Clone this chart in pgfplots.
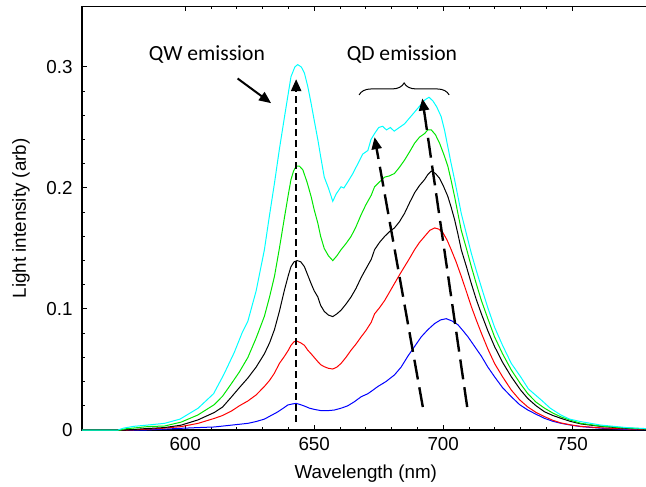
\documentclass[border=0pt]{standalone}
\usepackage{pgfplots}
\pgfplotsset{compat=1.18}
\usepackage{fontspec}
\setmainfont{Liberation Sans}
\newfontfamily\calibri{Carlito}
\usetikzlibrary{arrows.meta,decorations.pathreplacing}
\definecolor{cCyan}{RGB}{0,255,255}
\definecolor{cGreen}{RGB}{0,230,0}
\definecolor{cRed}{RGB}{255,0,0}
\definecolor{cBlue}{RGB}{0,0,255}
\begin{document}
\begin{tikzpicture}
\begin{axis}[
  scale only axis, width=283.8pt, height=211.75pt,
  xmin=560, xmax=780, ymin=0, ymax=0.35,
  xtick={600,650,700,750}, ytick={0,0.1,0.2,0.3},
  minor x tick num=4, minor y tick num=4,
  tick align=inside, ytick pos=left,
  major tick length=2.5pt, minor tick length=1.5pt,
  tick style={black, line width=0.5pt},
  axis line style={line width=0.6pt},
  font=\fontsize{9.4}{11}\selectfont,
  /pgf/number format/assume math mode=true,
  yticklabel style={/pgf/number format/fixed, xshift=-1.2pt},
  xlabel={Wavelength (nm)}, ylabel={Light intensity (arb)},
  xlabel style={at={(axis description cs:0.5,0)}, anchor=base, yshift=-24pt, inner sep=0pt},
  ylabel style={at={(axis description cs:-0.0987,0.5)}, anchor=base, inner sep=0pt},
  clip=false,
]
\coordinate (sw) at (rel axis cs:0,0);
\addplot[cBlue, line width=0.5pt] coordinates {(560,0) (585,0) (598.4,0.0014) (605,0.002) (611.3,0.0025) (617.8,0.004) (624.3,0.0055) (627.5,0.007) (630.7,0.009) (633.3,0.012) (635.9,0.015) (638,0.018) (639.8,0.0207) (641.5,0.0215) (643,0.022) (644.6,0.021) (646.2,0.0198) (648.2,0.018) (650.1,0.017) (652.7,0.016) (655.3,0.016) (657.8,0.0165) (660.4,0.018) (663,0.020) (665.6,0.0234) (668.2,0.0275) (670.8,0.030) (672.8,0.033) (674.7,0.036) (677.8,0.040) (681.1,0.0455) (683.7,0.052) (686.3,0.061) (688.9,0.069) (691.5,0.077) (694.1,0.083) (696.7,0.088) (699,0.091) (701.2,0.092) (703.5,0.090) (705.7,0.087) (707.7,0.082) (709.6,0.077) (712.2,0.069) (714.8,0.061) (717.3,0.052) (719.9,0.044) (723,0.035) (726.4,0.0275) (729.6,0.021) (732.8,0.0165) (736,0.013) (739.3,0.0096) (742.5,0.0072) (745.7,0.0055) (749.5,0.004) (753.4,0.0028) (761,0.0015) (770,0.0006) (780,0.0002)};
\addplot[cRed, line width=0.5pt] coordinates {(560,0) (578,0) (590,0.0012) (598.4,0.0028) (605,0.0055) (611.3,0.0096) (614.5,0.012) (617.8,0.0155) (621,0.020) (624.3,0.024) (627.5,0.029) (630.7,0.036) (632.7,0.041) (634.6,0.047) (636.5,0.055) (638.5,0.061) (640,0.066) (641,0.070) (642.2,0.073) (643.2,0.0735) (644.8,0.072) (646.2,0.070) (647.5,0.066) (648.8,0.063) (650,0.060) (651.4,0.0565) (652.5,0.054) (653.9,0.0523) (655.5,0.051) (657.2,0.0504) (658.8,0.052) (660.4,0.055) (662.3,0.060) (664.3,0.066) (666.2,0.071) (668.2,0.077) (670,0.082) (672.1,0.089) (673.4,0.096) (675.3,0.101) (677.3,0.107) (679.2,0.114) (681.1,0.121) (683,0.128) (685,0.135) (687,0.142) (688.9,0.149) (690.8,0.155) (692.8,0.160) (694.8,0.165) (696.7,0.167) (698.3,0.166) (699.9,0.163) (701.5,0.157) (703.1,0.149) (705,0.139) (707,0.127) (708.9,0.115) (710.9,0.102) (712.8,0.091) (714.8,0.080) (717.3,0.067) (719.9,0.055) (723,0.044) (726.4,0.033) (729.6,0.025) (732.8,0.019) (736,0.0145) (739.3,0.011) (742.5,0.008) (745.7,0.0058) (749.5,0.0042) (753.4,0.003) (761,0.0018) (770,0.0009) (780,0.0004)};
\addplot[black, line width=0.5pt] coordinates {(560,0) (577,0) (585,0.0012) (592,0.002) (598.4,0.004) (604.9,0.0083) (611.3,0.0145) (614.5,0.019) (617.8,0.027) (621,0.035) (624.3,0.043) (627.5,0.052) (630.7,0.063) (632.7,0.072) (634.6,0.083) (636.5,0.098) (638.5,0.116) (640,0.128) (641,0.135) (642.2,0.139) (643.4,0.140) (644.8,0.139) (646.2,0.135) (647.5,0.128) (648.8,0.121) (650,0.115) (651.4,0.110) (652.5,0.103) (653.9,0.098) (655.5,0.095) (657.2,0.0937) (658.8,0.096) (660.4,0.099) (662.3,0.104) (664.3,0.110) (666.2,0.117) (668.2,0.126) (670,0.133) (672.1,0.141) (673.4,0.149) (675.3,0.155) (677.3,0.160) (679.2,0.164) (681.1,0.167) (683,0.172) (685,0.179) (687,0.188) (688.9,0.196) (690.8,0.202) (692.8,0.207) (694,0.211) (695.4,0.214) (697,0.212) (698.6,0.208) (700.2,0.201) (701.8,0.193) (703.1,0.184) (704.4,0.174) (705.7,0.162) (707,0.149) (709,0.135) (710.9,0.121) (712.8,0.108) (714.8,0.096) (717.3,0.082) (719.9,0.069) (723,0.056) (726.4,0.044) (730,0.033) (732.8,0.026) (736,0.020) (739.3,0.015) (742.5,0.012) (745.7,0.0096) (749.5,0.007) (753.4,0.005) (761,0.003) (770,0.0015) (780,0.0006)};
\addplot[cGreen, line width=0.5pt] coordinates {(560,0) (575,0) (577,0.001) (585.5,0.0028) (592,0.0033) (598.4,0.0065) (604.9,0.0124) (611.3,0.021) (614.5,0.028) (617.8,0.038) (621,0.048) (624.3,0.060) (627.5,0.076) (630.7,0.094) (632.7,0.11) (634.6,0.127) (636.5,0.150) (638.5,0.176) (640,0.195) (641,0.207) (642,0.214) (643,0.218) (644.3,0.218) (645.6,0.215) (647.2,0.205) (648.8,0.193) (650,0.182) (651.4,0.171) (652.5,0.160) (653.9,0.15) (655.5,0.144) (657.2,0.140) (658.8,0.144) (660.4,0.149) (662.3,0.154) (664.3,0.160) (666.2,0.168) (668.2,0.178) (670,0.186) (672.1,0.194) (673.4,0.201) (675.3,0.205) (677.3,0.209) (679.2,0.210) (681.1,0.212) (683,0.217) (685,0.223) (687,0.230) (688.9,0.237) (690.8,0.242) (692.8,0.245) (694,0.248) (695.4,0.248) (697,0.244) (698.6,0.237) (700.2,0.228) (701.8,0.218) (703.1,0.206) (704.4,0.193) (705.7,0.179) (707,0.165) (709,0.150) (710.9,0.135) (712.8,0.121) (714.8,0.107) (717.3,0.092) (719.9,0.077) (723,0.063) (726.4,0.0496) (730,0.038) (732.8,0.030) (736,0.023) (739.3,0.018) (742.5,0.014) (745.7,0.0108) (749.5,0.008) (753.4,0.0055) (761,0.0033) (770,0.0018) (780,0.0008)};
\addplot[cCyan, line width=0.5pt] coordinates {(560,0) (574,0) (576,0.0015) (580,0.003) (586,0.0042) (592,0.0055) (598,0.009) (605,0.018) (611,0.030) (615,0.046) (619,0.064) (622,0.080) (624.3,0.09) (627.5,0.115) (630.7,0.149) (632.5,0.175) (634.6,0.204) (636.5,0.232) (638.5,0.259) (641,0.292) (642.5,0.300) (643.6,0.302) (645,0.300) (646.2,0.295) (647.5,0.284) (648.8,0.27) (650,0.256) (651.4,0.24) (652.5,0.226) (653.9,0.209) (655.5,0.200) (657.2,0.189) (658.5,0.195) (660.4,0.201) (661.5,0.200) (663,0.205) (665,0.212) (666.9,0.22) (668.8,0.228) (670.8,0.231) (672,0.240) (673.4,0.245) (675,0.250) (676.5,0.251) (678,0.248) (679.5,0.250) (681,0.247) (683,0.250) (685,0.253) (687,0.258) (689,0.263) (691,0.268) (693,0.273) (694.5,0.275) (696,0.272) (697.5,0.267) (699.2,0.259) (700.5,0.248) (701.8,0.234) (703,0.221) (704.4,0.207) (705.7,0.193) (707,0.179) (709,0.162) (710.9,0.146) (712.8,0.132) (714.8,0.118) (717.3,0.101) (719.9,0.085) (723,0.070) (726.4,0.055) (730,0.044) (733,0.034) (738,0.0248) (741.5,0.018) (745.6,0.0124) (749,0.009) (753.4,0.0069) (761,0.0041) (771,0.002) (780,0.001)};
% dashed arrows
\addplot[black, line width=1.2pt, dash pattern=on 3.5pt off 2pt, -{Triangle[length=6pt,width=5pt]}] coordinates {(643,0.007) (643,0.290)};
\addplot[black, line width=1.2pt, dash pattern=on 10pt off 4pt, -{Triangle[length=6pt,width=5pt]}] coordinates {(692.1,0.019) (673.4,0.242)};
\addplot[black, line width=1.2pt, dash pattern=on 10pt off 4pt, -{Triangle[length=6pt,width=5pt]}] coordinates {(709.3,0.019) (691.9,0.274)};
\addplot[black, line width=1pt, -{Triangle[length=6pt,width=5pt]}] coordinates {(620.3,0.2905) (633.3,0.2701)};
\draw[black, line width=0.5pt, decorate, decoration={brace, amplitude=6pt}] (axis cs:667.4,0.2769) -- (axis cs:702.3,0.2769);
\node[font=\calibri\fontsize{10.8}{13}\selectfont, anchor=base, inner sep=0pt] at (axis cs:608.4,0.3052) {QW emission};
\node[font=\calibri\fontsize{10.8}{13}\selectfont, anchor=base, inner sep=0pt] at (axis cs:684.0,0.3052) {QD emission};
\end{axis}
\pgfresetboundingbox
\path[use as bounding box] ([xshift=-41pt,yshift=-28pt]sw) rectangle ([xshift=282pt,yshift=215pt]sw);
\end{tikzpicture}
\end{document}
